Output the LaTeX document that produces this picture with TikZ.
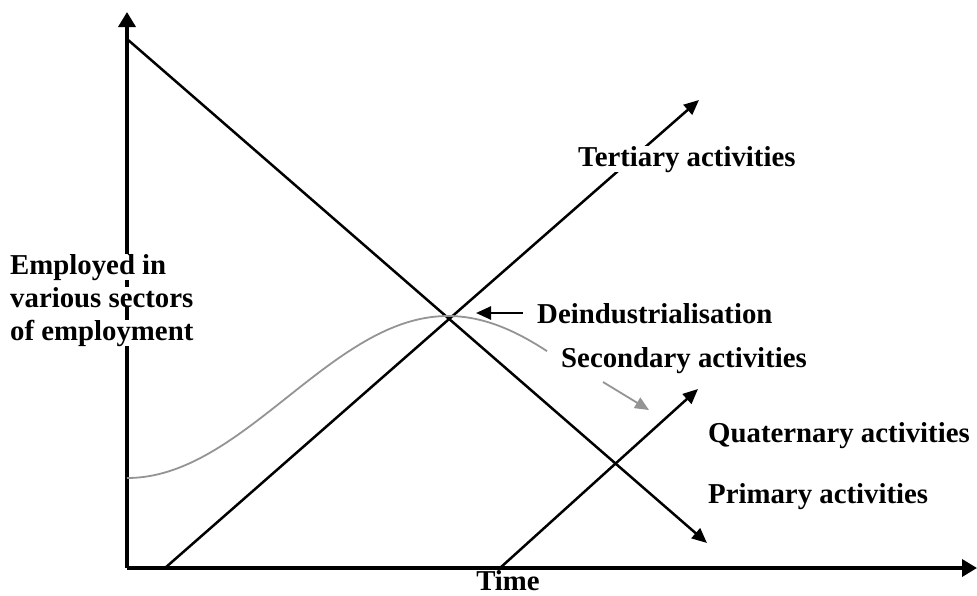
\documentclass[tikz,border=0pt]{standalone}
\usepackage{fontspec}
\setmainfont{Liberation Serif}
\usetikzlibrary{arrows.meta}
\begin{document}
\begin{tikzpicture}[x=1pt,y=-1pt,
  axisline/.style={line width=3.6pt,-{Triangle[length=15pt,width=17pt]}},
  trendline/.style={line width=2.5pt,-{Triangle[length=15pt,width=13pt]}},
  pointer/.style={line width=2.5pt,-{Triangle[length=15pt,width=13pt]}},
  softline/.style={line width=1.8pt,draw=black!42},
  label/.style={inner sep=0pt,fill=white,anchor=base west,font=\fontsize{28.8}{33}\selectfont\bfseries}]
\useasboundingbox (0,0) rectangle (977,595);

% axes
\coordinate (origin) at (127,568);
\coordinate (ytop) at (127,12);
\coordinate (xend) at (977,568);
\draw[axisline] (origin) -- (ytop);
\draw[axisline] (origin) -- (xend);

% primary activities: falling line
\coordinate (p0) at (127,39);
\coordinate (p1) at (707,543);
\draw[trendline] (p0) -- (p1);

% tertiary activities: rising line
\coordinate (t0) at (165,568);
\coordinate (t1) at (699,100);
\draw[trendline] (t0) -- (t1);

% quaternary activities: later rising line
\coordinate (q0) at (500,568);
\coordinate (q1) at (698,389);
\draw[trendline] (q0) -- (q1);

% secondary activities: rise and decline
\draw[softline] plot[domain=127:547,samples=90,smooth] (\x,{397+81*cos(0.56075*(\x-127))});
\coordinate (s0) at (603,382);
\coordinate (s1) at (649,410);
\draw[softline,-{Triangle[length=14pt,width=12pt]}] (s0) -- (s1);

% deindustrialisation pointer
\coordinate (d0) at (523,313);
\coordinate (d1) at (476,313);
\draw[pointer] (d0) -- (d1);

% labels (white backing hides the lines running under them)
\node[label] (ylab) at (10,274) {Employed in};
\node[label] (ylab2) at (10,307) {various sectors};
\node[label] (ylab3) at (10,340) {of employment};
\node[label] (tert) at (578,166) {Tertiary activities};
\node[label] (deind) at (537,323) {Deindustrialisation};
\node[label] (sec) at (561,367) {Secondary activities};
\node[label] (quat) at (708,442) {Quaternary activities};
\node[label] (prim) at (708,503) {Primary activities};
\node[label,fill=none,text depth=0pt,anchor=base] (time) at (508,590) {Time};
\end{tikzpicture}
\end{document}
